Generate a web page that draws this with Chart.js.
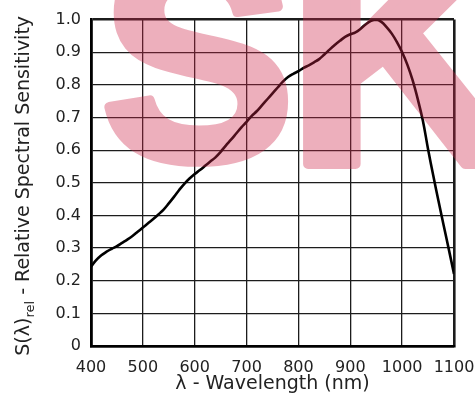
<!DOCTYPE html>
<html>
<head>
<meta charset="utf-8">
<script src="https://cdn.jsdelivr.net/npm/chart.js@4/dist/chart.umd.min.js"></script>
<style>
  html, body { margin: 0; padding: 0; background: #fff; }
  #wrap { width: 475px; height: 408px; }
</style>
</head>
<body>
<div id="wrap"><canvas id="chart" width="475" height="408"></canvas></div>
<script>
// Wavelength (nm) and relative spectral sensitivity
const wavelengths = [400, 410, 420, 430, 440, 450, 460, 470, 480, 490,
  500, 510, 520, 530, 540, 550, 560, 570, 580, 590,
  600, 610, 620, 630, 640, 650, 660, 670, 680, 690,
  700, 710, 720, 730, 740, 750, 760, 770, 780, 790,
  800, 810, 820, 830, 840, 850, 860, 870, 880, 890,
  900, 910, 920, 930, 940, 950, 960, 970, 980, 990,
  1000, 1010, 1020, 1030, 1040, 1050, 1060, 1070, 1080, 1090, 1100];
const sensitivity = [0.243, 0.263, 0.278, 0.289, 0.298, 0.306, 0.316, 0.326, 0.337, 0.350,
  0.363, 0.376, 0.389, 0.403, 0.418, 0.437, 0.457, 0.478, 0.497, 0.513,
  0.527, 0.539, 0.552, 0.565, 0.578, 0.595, 0.614, 0.632, 0.651, 0.670,
  0.687, 0.705, 0.720, 0.738, 0.756, 0.774, 0.792, 0.810, 0.824, 0.834,
  0.842, 0.852, 0.860, 0.869, 0.879, 0.893, 0.908, 0.922, 0.935, 0.947,
  0.955, 0.961, 0.972, 0.986, 0.996, 1.0, 0.993, 0.977, 0.957, 0.931,
  0.900, 0.862, 0.815, 0.757, 0.690, 0.603, 0.522, 0.445, 0.370, 0.296, 0.221];

const xMin = 400, xMax = 1100, xStep = 100;
const yMin = 0, yMax = 1, yStep = 0.1;
const xTitle = 'λ - Wavelength (nm)';
const yTitleMain = 'S(λ)';
const yTitleSub = 'rel';
const yTitleRest = ' - Relative Spectral Sensitivity';
const watermark = ['S', 'K'];

const textColor = '#222';
const gridColor = '#1c1c1c';

// y axis title with a subscript, drawn by hand
const yTitlePlugin = {
  id: 'yTitle',
  afterDraw(chart) {
    const ctx = chart.ctx;
    const big = '19px "DejaVu Sans"';
    const small = '13px "DejaVu Sans"';
    ctx.save();
    ctx.font = big;
    const w1 = ctx.measureText(yTitleMain).width;
    const w3 = ctx.measureText(yTitleRest).width;
    ctx.font = small;
    const w2 = ctx.measureText(yTitleSub).width;
    const total = w1 + w2 + w3;
    const cy = (chart.chartArea.top + chart.chartArea.bottom) / 2 + 3;
    ctx.translate(29, cy + total / 2);
    ctx.rotate(-Math.PI / 2);
    ctx.fillStyle = textColor;
    ctx.textBaseline = 'alphabetic';
    ctx.font = big;
    ctx.fillText(yTitleMain, 0, 0);
    ctx.font = small;
    ctx.fillText(yTitleSub, w1, 5);
    ctx.font = big;
    ctx.fillText(yTitleRest, w1 + w2, 0);
    ctx.restore();
  }
};

// translucent pink letters laid over the plot
const watermarkPlugin = {
  id: 'watermark',
  afterDraw(chart) {
    const ctx = chart.ctx;
    const off = document.createElement('canvas');
    off.width = chart.width;
    off.height = chart.height;
    const o = off.getContext('2d');
    o.fillStyle = 'rgb(205,40,75)';
    o.strokeStyle = 'rgb(205,40,75)';
    o.lineWidth = 10;
    o.lineJoin = 'round';
    o.textBaseline = 'alphabetic';
    o.font = 'bold 290px "Liberation Sans"';
    o.fillText(watermark[0], 101, 159);
    o.strokeText(watermark[0], 101, 159);
    o.font = 'bold 330px "Liberation Sans"';
    o.fillText(watermark[1], 286, 164);
    o.strokeText(watermark[1], 286, 164);
    ctx.save();
    ctx.globalAlpha = 0.37;
    ctx.drawImage(off, 0, 0);
    ctx.restore();
  }
};

const points = wavelengths.map((w, i) => ({ x: w, y: sensitivity[i] }));

function edgeWidth(ctx, lastIndex) {
  return ctx.index === 0 || ctx.index === lastIndex ? 2.6 : 1.3;
}

new Chart(document.getElementById('chart').getContext('2d'), {
  type: 'line',
  data: {
    datasets: [{
      data: points,
      borderColor: '#000',
      borderWidth: 2.6,
      pointRadius: 0,
      tension: 0.4,
      fill: false
    }]
  },
  options: {
    responsive: false,
    animation: false,
    events: [],
    layout: { padding: { top: 17, right: 21, bottom: 0, left: 0 } },
    plugins: {
      legend: { display: false },
      tooltip: { enabled: false }
    },
    scales: {
      x: {
        type: 'linear',
        min: xMin,
        max: xMax,
        afterFit(scale) {
          scale.height = 62;
          scale.paddingLeft = 0;
          scale.paddingRight = 0;
        },
        ticks: {
          stepSize: xStep,
          color: textColor,
          font: { family: 'DejaVu Sans', size: 16 },
          padding: 12,
          maxRotation: 0,
          callback: (v) => String(v)
        },
        grid: {
          color: gridColor,
          lineWidth: (c) => edgeWidth(c, (xMax - xMin) / xStep),
          drawTicks: false
        },
        border: { color: '#000', width: 2.6 },
        title: {
          display: true,
          text: xTitle,
          color: textColor,
          font: { family: 'DejaVu Sans', size: 19 },
          padding: { top: 0, bottom: 13 }
        }
      },
      y: {
        min: yMin,
        max: yMax,
        afterFit(scale) { scale.width = 91; },
        ticks: {
          stepSize: yStep,
          color: textColor,
          font: { family: 'DejaVu Sans', size: 16 },
          padding: 10,
          callback: (v) => (Math.abs(v) < 1e-9 ? '0' : Number(v).toFixed(1))
        },
        grid: {
          color: gridColor,
          lineWidth: (c) => edgeWidth(c, Math.round((yMax - yMin) / yStep)),
          drawTicks: false
        },
        border: { color: '#000', width: 2.6 }
      }
    }
  },
  plugins: [yTitlePlugin, watermarkPlugin]
});
</script>
</body>
</html>
